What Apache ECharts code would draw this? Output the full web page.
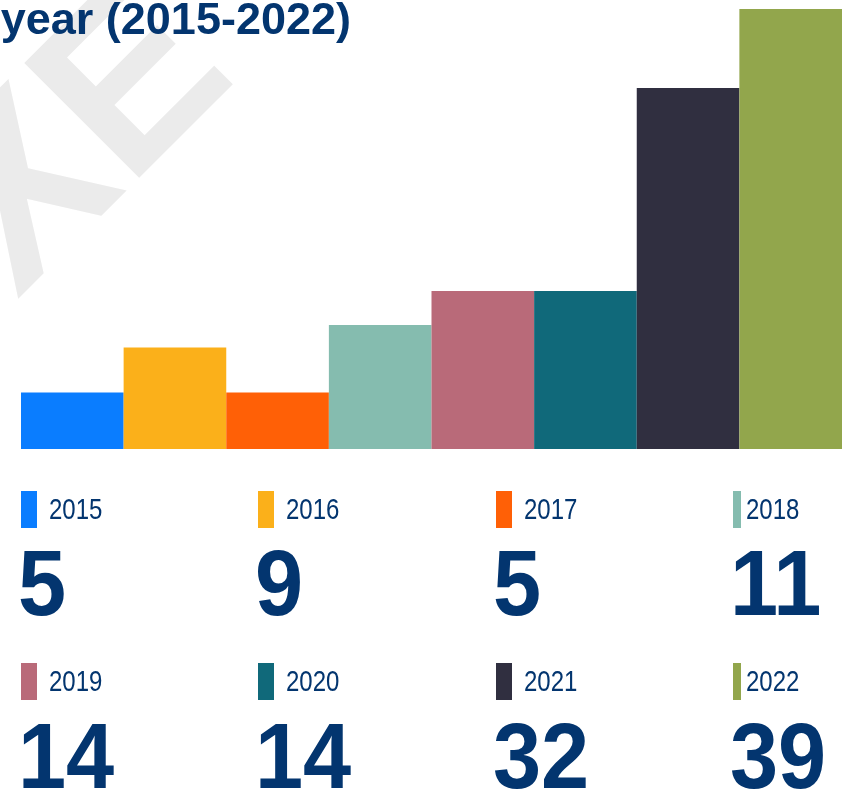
<!DOCTYPE html>
<html>
<head>
<meta charset="utf-8">
<script src="https://cdn.jsdelivr.net/npm/echarts@6/dist/echarts.min.js"></script>
<style>
  html, body { margin: 0; padding: 0; background: #ffffff; }
  #chart { width: 843px; height: 801px; }
</style>
</head>
<body>
<div id="chart"></div>
<script>
// Yearly counts, one bar per year
const years = ['2015', '2016', '2017', '2018', '2019', '2020', '2021', '2022'];
const counts = [5, 9, 5, 11, 14, 14, 32, 39];
const barColors = ['#0a7dff', '#fbb01a', '#ff6006', '#85bcaf', '#b96a79', '#10697a', '#302f40', '#92a64c'];
const titleText = 'year (2015-2022)';
const watermarkText = 'XE';

const NAVY = '#03356f';
const chart = echarts.init(document.getElementById('chart'), null, { renderer: 'canvas' });

// Key grid below the bars: 4 columns x 2 rows
const colX = [21, 258, 496, 733];
const markerW = [16, 16, 16, 8];
const labelX = [49, 286, 524, 746];
const rowMarkerY = [491, 663];
const rowLabelY = [511, 683];
const rowValueY = [590, 763];

const keyElements = [];
years.forEach((yr, i) => {
  const row = Math.floor(i / 4);
  const col = i % 4;
  keyElements.push({
    type: 'rect',
    shape: { x: colX[col], y: rowMarkerY[row], width: markerW[col], height: 37 },
    style: { fill: barColors[i] }
  });
  // year label, horizontally condensed
  keyElements.push({
    type: 'text',
    x: labelX[col], y: rowLabelY[row],
    scaleX: 0.8,
    style: {
      text: yr, fill: NAVY, align: 'left', verticalAlign: 'middle',
      font: '30px "Liberation Sans", sans-serif'
    }
  });
  keyElements.push({
    type: 'text',
    x: colX[col] - 3, y: rowValueY[row],
    scaleX: 0.94,
    style: {
      text: String(counts[i]), fill: NAVY, align: 'left', verticalAlign: 'middle',
      font: 'bold 92px "Liberation Sans", sans-serif'
    }
  });
});

const option = {
  backgroundColor: '#ffffff',
  animation: false,
  grid: { left: 21, right: 1, top: 9, bottom: 352 },
  xAxis: {
    type: 'category',
    data: years,
    axisLine: { show: false },
    axisTick: { show: false },
    axisLabel: { show: false },
    splitLine: { show: false }
  },
  yAxis: {
    type: 'value',
    min: 0,
    max: Math.max(...counts),
    show: false,
    splitLine: { show: false }
  },
  series: [{
    type: 'bar',
    barCategoryGap: '0%',
    barGap: '0%',
    data: counts.map((v, i) => ({ value: v, itemStyle: { color: barColors[i] } }))
  }],
  graphic: [
    {
      type: 'text',
      x: 82, y: 143,
      rotation: Math.PI / 4,
      z: -10,
      silent: true,
      style: {
        text: watermarkText, fill: '#ebebeb', align: 'center', verticalAlign: 'middle',
        font: 'bold 236px "Liberation Sans", sans-serif'
      }
    },
    {
      type: 'text',
      x: 351, y: 22,
      z: 100,
      style: {
        text: titleText, fill: NAVY, align: 'right', verticalAlign: 'middle',
        font: 'bold 45px "Liberation Sans", sans-serif'
      }
    },
    ...keyElements
  ]
};

chart.setOption(option);
</script>
</body>
</html>
